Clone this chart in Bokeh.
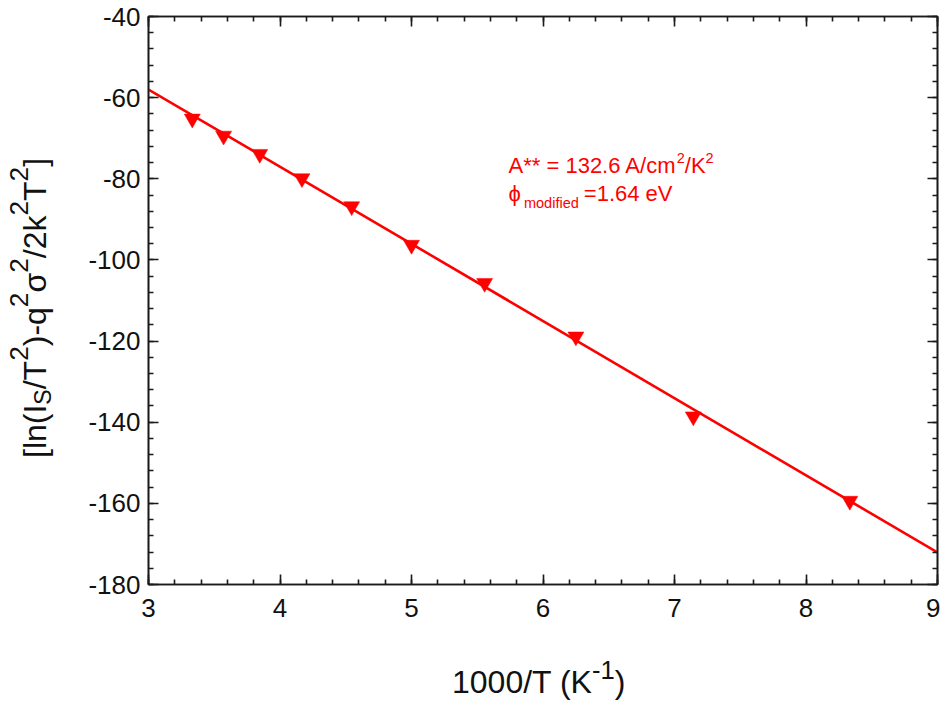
import math
from bokeh.plotting import figure
from bokeh.layouts import row, column
from bokeh.models import (Range1d, LinearAxis, Label, SingleIntervalTicker,
                          CustomJSTickFormatter, ColumnDataSource, Div)
from bokeh.embed import file_html
from bokeh.resources import INLINE

# ---------------- data ----------------
inv_T = [3.333, 3.571, 3.846, 4.167, 4.545, 5.000, 5.556, 6.250, 7.143, 8.333]
mod_richardson = [-65.2, -69.4, -73.9, -79.9, -86.8, -96.3, -105.7, -118.9, -138.6, -159.4]
fit_x = [3.0, 9.0]
fit_y = [-58.0, -172.1]
x_ticks_interval = 1
y_ticks_interval = 20

FONT = "Liberation Sans"
RED = "#FF0000"
DARK = "#1a1a1a"

# Arial / Liberation Sans advance widths (em)
W = {' ': .278, '(': .333, ')': .333, '*': .389, '-': .333, '.': .278, '/': .278,
     '=': .584, 'A': .667, 'I': .278, 'K': .667, 'S': .667, 'T': .611, 'V': .667,
     '[': .278, ']': .278, 'c': .5, 'd': .556, 'e': .556, 'f': .278, 'i': .222,
     'k': .5, 'l': .222, 'm': .833, 'n': .556, 'o': .556, 'q': .556,
     'σ': .60, 'ϕ': .70}
for d in "0123456789":
    W[d] = .556


def tw(s, size):
    return sum(W.get(c, .556) for c in s) * size


YDIV_W = 60
FIG_W = 880
FIG_H = 630
XDIV_H = 70

p = figure(width=FIG_W, height=FIG_H, output_backend="svg", toolbar_location=None,
           x_range=Range1d(3, 9), y_range=Range1d(-180, -40),
           min_border_left=88, min_border_right=3, min_border_top=16,
           min_border_bottom=46)
p.background_fill_color = "white"
p.border_fill_color = "white"
p.grid.visible = False
p.outline_line_color = DARK
p.outline_line_width = 1.6

plain_fmt = CustomJSTickFormatter(code="return tick.toString()")


def style_axis(ax, show_labels):
    ax.major_tick_in = 10
    ax.major_tick_out = 0
    ax.minor_tick_in = 5
    ax.minor_tick_out = 0
    ax.major_tick_line_color = DARK
    ax.minor_tick_line_color = DARK
    ax.major_tick_line_width = 1.6
    ax.minor_tick_line_width = 1.6
    ax.axis_line_color = DARK
    ax.axis_line_width = 1.6
    if show_labels:
        ax.formatter = plain_fmt
        ax.major_label_text_font = FONT
        ax.major_label_text_font_size = "26px"
        ax.major_label_text_color = "#111111"
    else:
        ax.formatter = CustomJSTickFormatter(code="return ''")
        ax.major_label_text_font_size = "1px"
        ax.major_label_standoff = 0


p.xaxis.ticker = SingleIntervalTicker(interval=x_ticks_interval, num_minor_ticks=5)
p.yaxis.ticker = SingleIntervalTicker(interval=y_ticks_interval, num_minor_ticks=5)
style_axis(p.xaxis[0], True)
style_axis(p.yaxis[0], True)
p.xaxis.major_label_standoff = 14
p.yaxis.major_label_standoff = 8

top_ax = LinearAxis(ticker=SingleIntervalTicker(interval=x_ticks_interval, num_minor_ticks=5))
right_ax = LinearAxis(ticker=SingleIntervalTicker(interval=y_ticks_interval, num_minor_ticks=5))
style_axis(top_ax, False)
style_axis(right_ax, False)
p.add_layout(top_ax, "above")
p.add_layout(right_ax, "right")

# fit line and data
p.line(fit_x, fit_y, line_color=RED, line_width=2.6)
src = ColumnDataSource(dict(x=inv_T, y=mod_richardson))
p.scatter("x", "y", source=src, marker="inverted_triangle", size=16,
          fill_color=RED, line_color=RED, line_width=0.5)


def rich(x, y, pieces, base, color=RED):
    """pieces: (text, scale, shift, pregap) ; shift in units of base size (up positive)"""
    adv = 0.0
    for text, scale, shift, gap in pieces:
        size = base * scale
        adv += gap
        p.add_layout(Label(x=x, y=y, x_offset=adv, y_offset=shift * base, text=text,
                           text_font=FONT, text_font_size=f"{size:.1f}px",
                           text_color=color, text_align="left",
                           text_baseline="alphabetic"))
        adv += tw(text, size)


# annotation inside the plot
ann1 = [("A** = 132.6 A/cm", 1, 0, 0), ("2", 0.66, 0.33, 0), ("/K", 1, 0, 0),
        ("2", 0.66, 0.33, 0)]
rich(5.738, -76.73, ann1, 22)
ann2 = [("ϕ", 1, 0, 0), ("modified", 0.66, -0.44, 0), ("=1.64 eV", 1, 0, 5)]
rich(5.738, -83.63, ann2, 22)

# ---------------- axis titles (rich HTML text) ----------------
LF = 32
SUP = ("<span style='font-size:0.82em;position:relative;top:-0.7em'>{}</span>")
SUB = ("<span style='font-size:0.72em;position:relative;top:0.22em'>{}</span>")
base_css = (f"position:absolute;white-space:nowrap;font-family:'{FONT}';"
            f"font-size:{LF}px;line-height:1;color:#111111;")

ylabel_html = ("[ln(I" + SUB.format("S") + "/T" + SUP.format("2") + ")-q" + SUP.format("2")
               + "σ" + SUP.format("2") + "/2k" + SUP.format("2") + "T" + SUP.format("2") + "]")
y_left = 46 - 0.8465 * LF
y_top = 458
ydiv = Div(text=(f"<div style='position:relative;width:{YDIV_W}px;height:{FIG_H}px;'>"
                 f"<div style=\"{base_css}left:{y_left:.1f}px;top:{y_top}px;"
                 f"transform-origin:0 0;transform:rotate(-90deg);\">{ylabel_html}</div></div>"),
           width=YDIV_W, height=FIG_H, margin=0)

XSUP = ("<span style='font-size:0.8em;position:relative;top:-0.55em'>{}</span>")
xlabel_html = "1000/T (K" + XSUP.format("-1") + ")"
x_left = 452
x_top = 63 - 0.8465 * LF
xdiv = Div(text=(f"<div style='position:relative;width:{YDIV_W + FIG_W}px;height:{XDIV_H}px;'>"
                 f"<div style=\"{base_css}left:{x_left}px;top:{x_top:.1f}px;\">{xlabel_html}</div></div>"),
           width=YDIV_W + FIG_W, height=XDIV_H, margin=0)

layout = column(row(ydiv, p, spacing=0), xdiv, spacing=0)

open("out.html", "w").write(file_html(layout, INLINE))
